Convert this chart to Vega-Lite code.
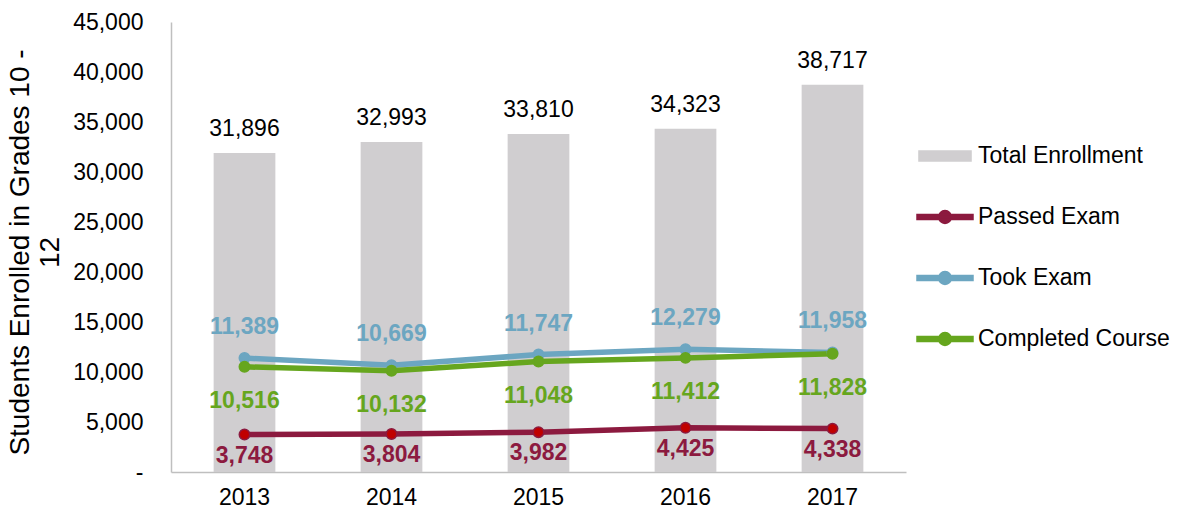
{
  "$schema": "https://vega.github.io/schema/vega-lite/v6.json",
  "width": 735,
  "height": 450,
  "autosize": {"type": "none"},
  "padding": {"left": 171, "top": 22, "right": 276, "bottom": 39},
  "config": {
    "view": {"stroke": null},
    "font": "Liberation Sans",
    "axis": {"labelFont": "Liberation Sans", "titleFont": "Liberation Sans", "labelColor": "#000000", "titleColor": "#000000", "grid": false, "ticks": false, "domainColor": "#BFBFBF", "domainWidth": 1.5}
  },
  "data": {
    "values": [
      {"year": "2013", "series": "Total Enrollment", "value": 31896},
      {"year": "2014", "series": "Total Enrollment", "value": 32993},
      {"year": "2015", "series": "Total Enrollment", "value": 33810},
      {"year": "2016", "series": "Total Enrollment", "value": 34323},
      {"year": "2017", "series": "Total Enrollment", "value": 38717},
      {"year": "2013", "series": "Passed Exam", "value": 3748},
      {"year": "2014", "series": "Passed Exam", "value": 3804},
      {"year": "2015", "series": "Passed Exam", "value": 3982},
      {"year": "2016", "series": "Passed Exam", "value": 4425},
      {"year": "2017", "series": "Passed Exam", "value": 4338},
      {"year": "2013", "series": "Took Exam", "value": 11389},
      {"year": "2014", "series": "Took Exam", "value": 10669},
      {"year": "2015", "series": "Took Exam", "value": 11747},
      {"year": "2016", "series": "Took Exam", "value": 12279},
      {"year": "2017", "series": "Took Exam", "value": 11958},
      {"year": "2013", "series": "Completed Course", "value": 10516},
      {"year": "2014", "series": "Completed Course", "value": 10132},
      {"year": "2015", "series": "Completed Course", "value": 11048},
      {"year": "2016", "series": "Completed Course", "value": 11412},
      {"year": "2017", "series": "Completed Course", "value": 11828}
    ]
  },
  "encoding": {
    "x": {
      "field": "year", "type": "ordinal",
      "scale": {"paddingInner": 0.58, "paddingOuter": 0.29},
      "axis": {"labelAngle": 0, "labelPadding": 14, "labelFontSize": 23, "title": null}
    },
    "y": {
      "field": "value", "type": "quantitative",
      "scale": {"domain": [0, 45000], "nice": false},
      "axis": {
        "values": [0, 5000, 10000, 15000, 20000, 25000, 30000, 35000, 40000, 45000],
        "labelExpr": "datum.value === 0 ? '-\u00a0\u00a0' : format(datum.value, ',')",
        "labelPadding": 28,
        "labelFontSize": 23,
        "title": ["Students Enrolled in Grades 10 -", "12"],
        "titleFontSize": 28,
        "titleFontWeight": "normal",
        "titleX": -137,
        "titleY": 230,
        "titleAngle": -90,
        "titleBaseline": "bottom",
        "titleAlign": "center",
        "titleLineHeight": 30
      }
    }
  },
  "layer": [
    {
      "transform": [{"filter": "datum.series === 'Total Enrollment'"}],
      "mark": {"type": "bar"},
      "encoding": {
        "color": {
          "field": "series", "type": "nominal",
          "scale": {"domain": ["Total Enrollment", "Passed Exam", "Took Exam", "Completed Course"], "range": ["#D0CED0", "#8C1A3F", "#6CA6C1", "#66A61E"]},
          "legend": {
            "orient": "none", "legendX": 745, "legendY": 105, "title": null,
            "labelFontSize": 23, "labelFont": "Liberation Sans", "labelColor": "#000000", "labelLimit": 400,
            "symbolSize": 3136, "rowPadding": 20, "labelOffset": 4, "padding": 0,
            "encode": {
              "symbols": {
                "update": {
                  "shape": {"signal": "datum.value === 'Total Enrollment' ? 'M-0.93,-0.18L0.93,-0.18L0.93,0.18L-0.93,0.18Z' : 'M-1,-0.09L1,-0.09L1,0.09L-1,0.09Z M0.23,0 A0.23,0.23 0 1 1 -0.23,0 A0.23,0.23 0 1 1 0.23,0 Z'"},
                  "fill": {"scale": "color", "field": "value"},
                  "stroke": {"value": "transparent"},
                  "size": {"value": 3136},
                  "opacity": {"value": 1}
                }
              }
            }
          }
        }
      }
    },
    {
      "transform": [{"filter": "datum.series === 'Total Enrollment'"}],
      "mark": {"type": "text", "baseline": "alphabetic", "dy": -17, "fontSize": 23, "color": "#000000"},
      "encoding": {"text": {"field": "value", "type": "quantitative", "format": ","}}
    },
    {
      "transform": [{"filter": "datum.series !== 'Total Enrollment'"}],
      "mark": {"type": "line", "strokeWidth": 5.5},
      "encoding": {
        "color": {"field": "series", "type": "nominal"},
        "order": {"value": 0}
      }
    },
    {
      "transform": [{"filter": "datum.series !== 'Total Enrollment'"}],
      "mark": {"type": "point", "filled": true, "size": 110, "strokeWidth": 1.5, "opacity": 1, "shape": "circle"},
      "encoding": {
        "fill": {"field": "series", "type": "nominal", "scale": {"domain": ["Passed Exam", "Took Exam", "Completed Course"], "range": ["#C00000", "#6CA6C1", "#66A61E"]}, "legend": null},
        "stroke": {"field": "series", "type": "nominal", "scale": {"domain": ["Passed Exam", "Took Exam", "Completed Course"], "range": ["#8C1A3F", "#6CA6C1", "#66A61E"]}, "legend": null}
      }
    },
    {
      "transform": [{"filter": "datum.series === 'Took Exam'"}],
      "mark": {"type": "text", "baseline": "alphabetic", "dy": -24, "fontSize": 23, "fontWeight": "bold", "color": "#6CA6C1"},
      "encoding": {"text": {"field": "value", "type": "quantitative", "format": ","}}
    },
    {
      "transform": [{"filter": "datum.series === 'Completed Course'"}],
      "mark": {"type": "text", "baseline": "alphabetic", "dy": 41, "fontSize": 23, "fontWeight": "bold", "color": "#66A61E"},
      "encoding": {"text": {"field": "value", "type": "quantitative", "format": ","}}
    },
    {
      "transform": [{"filter": "datum.series === 'Passed Exam'"}],
      "mark": {"type": "text", "baseline": "alphabetic", "dy": 28, "fontSize": 23, "fontWeight": "bold", "color": "#8C1A3F"},
      "encoding": {"text": {"field": "value", "type": "quantitative", "format": ","}}
    }
  ]
}
